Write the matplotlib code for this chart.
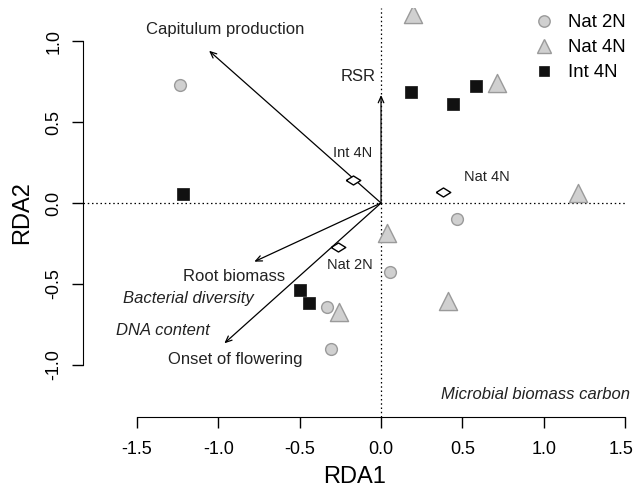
import numpy as np
import matplotlib
matplotlib.use('Agg')
from matplotlib import pyplot as plt
from matplotlib.lines import Line2D
from matplotlib.transforms import ScaledTranslation

plt.rcParams['font.family'] = ['Liberation Sans', 'DejaVu Sans']

# site scores per group
nat2n_x = [-1.235, 0.467, 0.055, -0.33, -0.31]
nat2n_y = [0.73, -0.10, -0.426, -0.64, -0.90]
nat4n_x = [0.195, 0.711, 1.21, 0.035, -0.26, 0.41]
nat4n_y = [1.17, 0.74, 0.06, -0.185, -0.67, -0.605]
int4n_x = [0.184, 0.445, 0.584, -1.219, -0.498, -0.44]
int4n_y = [0.683, 0.61, 0.724, 0.054, -0.537, -0.62]

# group centroids
cent_names = ['Int 4N', 'Nat 4N', 'Nat 2N']
cent_x = [-0.17, 0.383, -0.262]
cent_y = [0.142, 0.07, -0.27]
cent_lab_x = [-0.172, 0.65, -0.189]
cent_lab_y = [0.31, 0.162, -0.383]

# biplot arrows
arr_x = [-1.057, 0.0, -0.779, -0.963]
arr_y = [0.94, 0.667, -0.362, -0.866]

# variable labels
var_names = ['Capitulum production', 'RSR', 'Root biomass', 'Bacterial diversity',
             'DNA content', 'Onset of flowering', 'Microbial biomass carbon']
var_x = [-0.959, -0.031, -0.904, -1.184, -1.338, -0.894, 0.950]
var_y = [1.072, 0.78, -0.451, -0.588, -0.788, -0.969, -1.181]
var_italic = [False, False, False, True, True, False, True]
var_ha = ['center', 'right', 'center', 'center', 'center', 'center', 'center']

W, H = 635, 493
fig = plt.figure(figsize=(W / 100, H / 100), dpi=100)
ax = fig.add_axes([83 / W, 1 - 417 / H, (627 - 83) / W, (417 - 8) / H])
ax.set_xlim(-1.832, 1.512)
ax.set_ylim(-1.321, 1.204)

ax.axhline(0, color='black', lw=0.9, ls=(0, (1.2, 2.2)), zorder=1)
ax.axvline(0, color='black', lw=0.9, ls=(0, (1.2, 2.2)), zorder=1)

for x, y in zip(arr_x, arr_y):
    ax.annotate('', xy=(x, y), xytext=(0, 0),
                arrowprops=dict(arrowstyle='->,head_length=0.45,head_width=0.2',
                                color='black', lw=0.9, shrinkA=0, shrinkB=0))

grey = '#d0d0d0'
edge = '#9a9a9a'
ax.scatter(nat2n_x, nat2n_y, s=72, marker='o', facecolor=grey, edgecolor=edge,
           linewidth=1, zorder=3)
ax.scatter(nat4n_x, nat4n_y, s=170, marker='^', facecolor=grey, edgecolor=edge,
           linewidth=1, zorder=3)
ax.scatter(int4n_x, int4n_y, s=80, marker='s', facecolor='#111111', edgecolor='#111111',
           linewidth=0.5, zorder=3)

diamond = [(-1, 0), (0, 0.62), (1, 0), (0, -0.62), (-1, 0)]
ax.scatter(cent_x, cent_y, s=110, marker=diamond, facecolor='white', edgecolor='black',
           linewidth=1, zorder=4)
for name, x, y in zip(cent_names, cent_lab_x, cent_lab_y):
    ax.text(x, y, name, ha='center', va='center', fontsize=10.5, color='#222222')

for name, x, y, it, ha in zip(var_names, var_x, var_y, var_italic, var_ha):
    ax.text(x, y, name, ha=ha, va='center', fontsize=12, color='#222222',
            style='italic' if it else 'normal')

for s in ['top', 'right']:
    ax.spines[s].set_visible(False)
ax.spines['left'].set_bounds(-1.0, 1.0)
ax.spines['bottom'].set_bounds(-1.5, 1.5)
ax.set_xticks([-1.5, -1.0, -0.5, 0.0, 0.5, 1.0, 1.5])
ax.set_yticks([-1.0, -0.5, 0.0, 0.5, 1.0])
ax.set_xticklabels(['-1.5', '-1.0', '-0.5', '0.0', '0.5', '1.0', '1.5'])
ax.set_yticklabels(['-1.0', '-0.5', '0.0', '0.5', '1.0'], rotation=90, va='center')
ax.tick_params(direction='out', length=8, width=1, labelsize=13, pad=9)
ax.tick_params(axis='y', pad=7)
ax.set_xlabel('RDA1', fontsize=17, labelpad=6)
ax.set_ylabel('RDA2', fontsize=17, labelpad=9)

# keep the last x tick label inside the canvas
last = ax.get_xticklabels()[-1]
last.set_transform(last.get_transform() + ScaledTranslation(-4 / 100, 0, fig.dpi_scale_trans))

handles = [
    Line2D([], [], ls='none', marker='o', ms=8.2, mfc=grey, mec=edge, mew=1),
    Line2D([], [], ls='none', marker='^', ms=10.5, mfc=grey, mec=edge, mew=1),
    Line2D([], [], ls='none', marker='s', ms=7.2, mfc='#111111', mec='#111111', mew=0.5),
]
ax.legend(handles, ['Nat 2N', 'Nat 4N', 'Int 4N'], loc='upper left',
          bbox_to_anchor=(535 / W, 1 - 14 / H),
          bbox_transform=fig.transFigure, frameon=False, fontsize=13.4,
          handlelength=1.0, handletextpad=0.8, labelspacing=0.43,
          borderpad=0, borderaxespad=0)

fig.savefig('out.png', dpi=100)
